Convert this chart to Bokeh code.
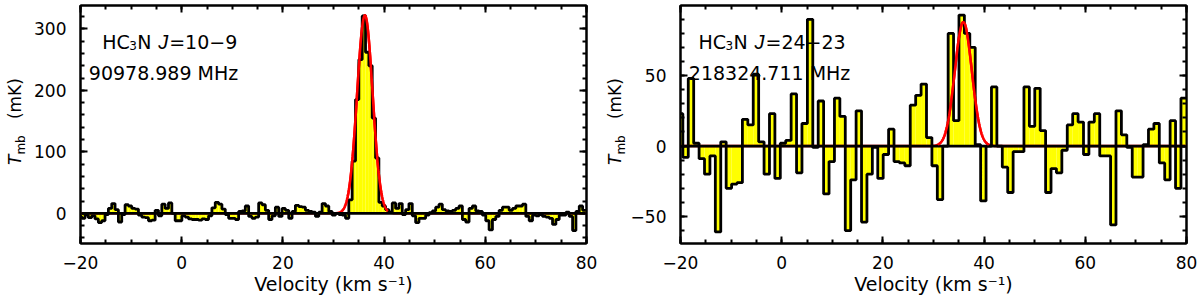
import numpy as np
from bokeh.plotting import figure
from bokeh.layouts import row
from bokeh.models import Range1d, LinearAxis, SingleIntervalTicker, Label, Div, CustomJSTickFormatter
from bokeh.embed import file_html
from bokeh.resources import INLINE

# ---------------- data ----------------
# Left panel: HC3N J=10-9 spectrum (mK), channels of left_dv km/s
left_v_first_edge = -20.43
left_dv = 0.66
left_tmb = [
    -5, -8, -3, -7, -4, -9, -15, -12, -2, 8, 16, 6, -14, -2, 14, 12, 8, 7, -3, -6,
    -7, -12, -11, 5, -4, 15, 8, 17, 0, -12, -12, -4, -6, -9, -10, -10, -11, -9, -10, -4,
    9, 18, 15, 7, -2, -8, -8, -10, 3, 4, 12, -5, -8, -6, 17, 14, 5, -10, -4, 10,
    -5, 8, 5, -8, 3, 13, 11, 10, 5, 3, 2, -5, 2, 16, 12, 3, -3, 0, -2, -3,
    -8, 22, 85, 185, 250, 321, 262, 240, 155, 90, 18, 12, 6, 2, 17, 8, 16, -2, 6, 16,
    -4, -15, -8, -8, -3, 1, 4, 10, 15, 6, 4, 3, 5, 8, 12, -10, -14, 8, 12, 4,
    3, -3, -12, -27, -10, -5, 5, 10, 10, 5, 8, 12, 12, 15, -5, -12, -3, -4, -2, -5,
    -6, -8, -18, -10, -3, -3, 2, -5, -28, 3, 12, 5,
]
left_fit_amp = 322.0
left_fit_v0 = 36.2
left_fit_sigma = 1.53
left_y_range = (-49.0, 338.0)
left_y_interval = 100
left_name = ("HC", "3", "N", "J", "=10\u22129")
left_freq = "90978.989 MHz"

# Right panel: HC3N J=24-23 spectrum (mK), channels of right_dv km/s
right_v_first_edge = -20.605
right_dv = 1.07
right_tmb = [
    23, -8, 48, 2, -9, -20, -7, -61, 3, -30, -27, -26, 19, 15, 51, 3, -20, 23, -23, 2,
    4, 37, -19, 16, 90, -1, 32, -34, -11, 34, 21, -60, -24, 25, -54, -20, -1, -23, -6, 12,
    -11, -12, -14, 29, 36, 44, 6, -14, -38, 0, 80, 18, 93, 80, 70, 1, -39, 0, 42, 0,
    -15, -33, -4, -4, 42, 14, 41, 11, -33, -16, -19, -3, 15, 23, 17, -6, 17, 23, -7, -7,
    -56, 25, 8, -1, -22, -22, 1, 12, 16, -12, -24, 18, -30, 34,
]
right_fit_amp = 88.0
right_fit_v0 = 35.9
right_fit_sigma = 1.68
right_y_range = (-69.2, 99.8)
right_y_interval = 50
right_name = ("HC", "3", "N", "J", "=24\u221223")
right_freq = "218324.711 MHz"

x_range = (-20, 80)
x_interval = 20
x_title = "Velocity (km s\u207b\u00b9)"
y_title_html = ("<i>T</i><sub style='font-size:12px'>mb</sub>"
                "&nbsp;&nbsp;&nbsp;(mK)")

FONT = "DejaVu Sans"
H = 299


def style_axis(ax, interval, labels, overrides=None, standoff=10):
    ax.ticker = SingleIntervalTicker(interval=interval, num_minor_ticks=4 if interval == 20 else 5)
    ax.axis_line_color = "black"
    ax.axis_line_width = 2
    ax.major_tick_in = 7
    ax.major_tick_out = 0
    ax.minor_tick_in = 4
    ax.minor_tick_out = 0
    ax.major_tick_line_width = 2
    ax.minor_tick_line_width = 2
    ax.major_tick_line_color = "black"
    ax.minor_tick_line_color = "black"
    if labels:
        ax.major_label_text_font = FONT
        ax.major_label_text_font_size = "17px"
        ax.major_label_text_color = "black"
        ax.major_label_standoff = standoff
        if overrides:
            ax.major_label_overrides = overrides
    else:
        ax.formatter = CustomJSTickFormatter(code="return ''")
        ax.major_label_text_font_size = "1px"
        ax.major_label_standoff = 0


def add_text(p, x, y, text, size="19px", style="normal", font=FONT):
    p.add_layout(Label(x=x, y=y, x_units="screen", y_units="screen", text=text,
                       text_font=font, text_font_size=size, text_font_style=style,
                       text_color="black", text_align="left", text_baseline="alphabetic"))


def make_panel(tmb, v_edge0, dv, amp, v0, sig, yr, y_int, name, freq, width, mbl, mbr,
               name_x, y_overrides):
    n = len(tmb)
    edges = v_edge0 + dv * np.arange(n + 1)
    p = figure(width=width, height=H, x_range=Range1d(*x_range), y_range=Range1d(*yr),
               output_backend="svg", toolbar_location=None,
               min_border_left=mbl, min_border_right=mbr, min_border_top=5, min_border_bottom=56)
    p.grid.visible = False
    p.outline_line_color = "black"
    p.outline_line_width = 2
    p.background_fill_color = "white"
    p.border_fill_color = "white"

    p.quad(left=edges[:-1], right=edges[1:], bottom=0, top=tmb,
           fill_color="#ffff00", line_color=None)
    vv = np.linspace(x_range[0] - 0.5, x_range[1] + 0.5, 3000)
    model = amp * np.exp(-0.5 * ((vv - v0) / sig) ** 2)
    p.line(vv, model, line_color="#ff0000", line_width=2.5)
    p.line([x_range[0] + 0.3, x_range[1] - 0.3], [0, 0], line_color="black", line_width=2.8)
    p.step(edges, list(tmb) + [tmb[-1]], mode="after", line_color="black", line_width=2.8)
    core = np.abs(vv - v0) < 3.0 * sig
    p.line(vv[core], model[core], line_color="#ff0000", line_width=2.5)

    xa = p.xaxis[0]
    style_axis(xa, x_interval, True, {-20: "\u221220"}, standoff=12)
    xa.axis_label = x_title
    xa.axis_label_text_font = FONT
    xa.axis_label_text_font_size = "19px"
    xa.axis_label_text_font_style = "normal"
    xa.axis_label_text_color = "black"
    xa.axis_label_standoff = 1
    style_axis(p.yaxis[0], y_int, True, y_overrides, standoff=14)
    top = LinearAxis()
    style_axis(top, x_interval, False)
    p.add_layout(top, "above")
    right = LinearAxis()
    style_axis(right, y_int, False)
    p.add_layout(right, "right")

    # line name (with subscript 3 and italic J) and frequency
    add_text(p, name_x, 201.3, name[0])
    add_text(p, name_x + 27.0, 198.3, name[1], size="12px")
    add_text(p, name_x + 35.0, 201.3, name[2])
    add_text(p, name_x + 56.0, 201.3, name[3], size="20px", style="italic", font="Liberation Sans")
    add_text(p, name_x + 67.0, 201.3, name[4])
    add_text(p, 8.3, 170.7, freq)
    return p


def y_title_div():
    html = ("<div style=\"margin-left:5px; margin-top:165px; width:max-content; "
            "white-space:nowrap; transform:rotate(-90deg); transform-origin:0 0; "
            "font-family:'DejaVu Sans'; font-size:17px; line-height:20px; color:black;\">"
            + y_title_html + "</div>")
    return Div(text=html, width=25, height=H, margin=0)


p1 = make_panel(left_tmb, left_v_first_edge, left_dv, left_fit_amp, left_fit_v0, left_fit_sigma,
                left_y_range, left_y_interval, left_name, left_freq, 575, 55, 14, 21.7, None)
p2 = make_panel(right_tmb, right_v_first_edge, right_dv, right_fit_amp, right_fit_v0,
                right_fit_sigma, right_y_range, right_y_interval, right_name, right_freq,
                575, 55, 14, 18.0, {-50: "\u221250"})

layout = row(y_title_div(), p1, y_title_div(), p2)
open("out.html", "w").write(file_html(layout, INLINE))
